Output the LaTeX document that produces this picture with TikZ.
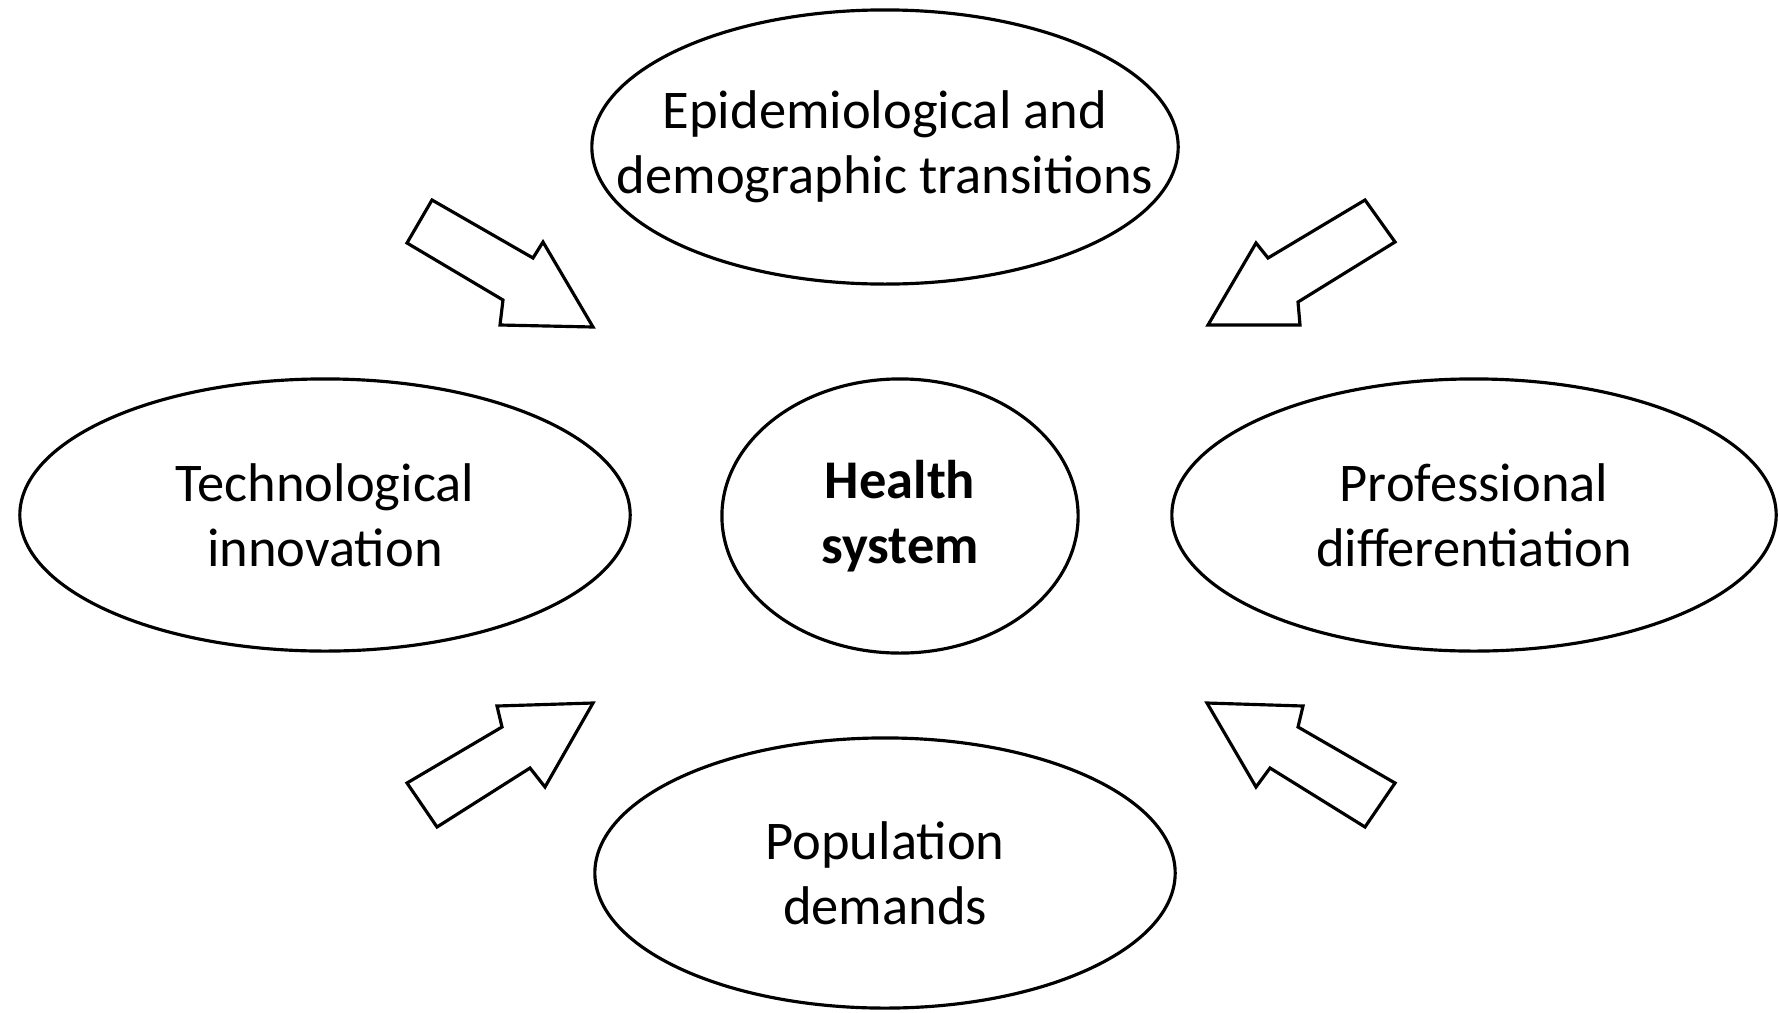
\documentclass[tikz,border=0pt]{standalone}
\usepackage{fontspec}
\setmainfont{Carlito}
\usetikzlibrary{shapes.geometric}
\tikzset{
  oval/.style={draw, ellipse, line width=0.9pt, inner sep=-3cm, align=center,
    font=\fontsize{15.5}{18.5}\selectfont},
  blockarrow/.style={draw, line width=0.9pt, line join=miter, fill=white}
}
\begin{document}
\begin{tikzpicture}[x=0.01cm,y=-0.01cm]
\useasboundingbox (0,0) rectangle (1780,1012);
% ellipses
\node[oval, minimum width=5.86cm, minimum height=2.74cm] (epi) at (885,147)
  {Epidemiological and\\demographic transitions};
\node[oval, minimum width=6.10cm, minimum height=2.72cm] (tech) at (325,515)
  {Technological\\innovation};
\node[oval, minimum width=3.56cm, minimum height=2.74cm] (health) at (900,516)
  {\textbf{Health}\\\textbf{system}};
\node[oval, minimum width=6.04cm, minimum height=2.72cm] (prof) at (1474,515)
  {Professional\\differentiation};
\node[oval, minimum width=5.80cm, minimum height=2.70cm] (pop) at (885,873)
  {Population\\demands};
% block arrows
\draw[blockarrow] (432,200) -- (533,258) -- (543,242) -- (593,327) -- (500,325) -- (503,300) -- (407,243) -- cycle;
\draw[blockarrow] (1365,200) -- (1268,258) -- (1256,243) -- (1208,325) -- (1300,325) -- (1298,302) -- (1395,242) -- cycle;
\draw[blockarrow] (407,783) -- (502,727) -- (497,706) -- (593,703) -- (545,787) -- (530,768) -- (437,827) -- cycle;
\draw[blockarrow] (1395,783) -- (1298,727) -- (1303,706) -- (1207,703) -- (1256,787) -- (1270,768) -- (1365,827) -- cycle;
\end{tikzpicture}
\end{document}
